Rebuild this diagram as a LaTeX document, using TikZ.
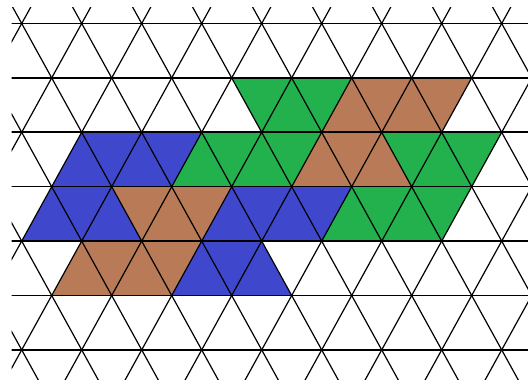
\documentclass[tikz,border=0pt]{standalone}
\usepackage{tikz}
\definecolor{tileblue}{RGB}{63,72,204}
\definecolor{tilegreen}{RGB}{34,177,76}
\definecolor{tilebrown}{RGB}{185,122,87}

\begin{document}
\begin{tikzpicture}[
  x=15mm, y=-27.2mm,
  gridline/.style={draw=black, line width=0.6mm},
  hline/.style={draw=black, line width=0.8mm},
]
\useasboundingbox (-0.7233,-0.432) rectangle (16.877,6.59);

% Coloured strips: top left/top right/bottom right/bottom left, row, colour
\foreach \a/\b/\c/\d/\r/\col in {
  7/11/10/8/1/tilegreen, 11/15/14/10/1/tilebrown,
  2/6/5/1/2/tileblue, 6/10/9/5/2/tilegreen, 10/12/13/9/2/tilebrown, 12/16/15/13/2/tilegreen,
  1/3/4/0/3/tileblue, 3/7/6/4/3/tilebrown, 7/11/10/6/3/tileblue, 11/15/14/10/3/tilegreen,
  2/6/5/1/4/tilebrown, 6/8/9/5/4/tileblue}
  \fill[\col] (\a,\r) -- (\b,\r) -- (\c,\r+1) -- (\d,\r+1) -- cycle;

% Triangle grid
\begin{scope}
  \clip (-1/3,-0.3) rectangle (16.877,6.55);
  \foreach \r in {0,...,6}
    \draw[hline] (-1,\r) -- (18,\r);
  \foreach \c in {-10,-8,...,18}
    \draw[gridline] (\c-1,-1) -- (\c+8,8);
  \foreach \c in {-2,0,...,26}
    \draw[gridline] (\c+1,-1) -- (\c-8,8);
\end{scope}

\end{tikzpicture}
\end{document}
